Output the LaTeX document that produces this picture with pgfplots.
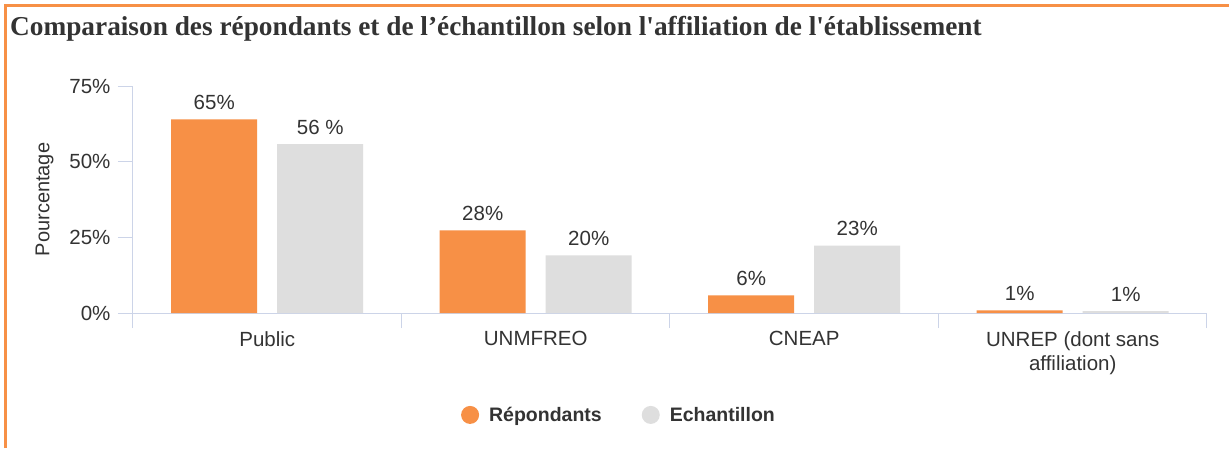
\documentclass[border=0pt]{standalone}
\usepackage{pgfplots}
\pgfplotsset{compat=1.18}
\usepackage{fontspec}
\setmainfont{Liberation Sans}
\newfontfamily\titlefont{Liberation Serif}
\definecolor{orangeC}{HTML}{F79046}
\definecolor{greyC}{HTML}{DEDEDE}
\definecolor{axisC}{HTML}{CCD4E8}
\definecolor{textC}{HTML}{333333}
\definecolor{borderC}{HTML}{F79046}
\begin{document}
\begin{tikzpicture}[x=1pt,y=1pt]
\path[use as bounding box] (0,0) rectangle (1229,448);
\fill[white] (0,0) rectangle (1229,448);
\draw[borderC, line width=3pt] (5.5,0) -- (5.5,442.5) -- (1229,442.5);
\node[anchor=west, inner sep=0pt, text=textC, font=\titlefont\bfseries\fontsize{27.3}{31}\selectfont] at (10,419.5) {Comparaison des répondants et de l’échantillon selon l\textquotesingle affiliation de l\textquotesingle établissement};
\begin{axis}[
  at={(133pt,135pt)}, anchor=south west,
  scale only axis, width=1074pt, height=227pt,
  ybar, bar width=86pt,
  xmin=-0.5, xmax=3.5, ymin=0, ymax=75,
  axis x line=bottom, axis y line=left,
  axis line style={draw=axisC, line width=1pt, -},
  xtick={0,1,2,3},
  xticklabels={Public,UNMFREO,CNEAP,{UNREP (dont sans\\affiliation)}},
  major x tick style={draw=none},
  minor xtick={-0.5,0.5,1.5,2.5,3.5},
  minor x tick style={draw=axisC, line width=1pt},
  ytick={0,25,50,75},
  yticklabels={0\%,25\%,50\%,75\%},
  y tick style={draw=axisC, line width=1pt},
  tick align=outside, major tick length=15pt, minor tick length=15pt,
  tick label style={font=\fontsize{20.5}{24}\selectfont, text=textC},
  xticklabel style={align=center, anchor=north},
  yticklabel style={xshift=-4pt},
  ylabel={Pourcentage},
  ylabel style={at={(axis description cs:-0.0824,0.5)}, anchor=center, rotate=0, font=\fontsize{20}{24}\selectfont, text=textC},
  nodes near coords,
  point meta=explicit symbolic,
  every node near coord/.append style={font=\fontsize{20.5}{24}\selectfont, text=textC, anchor=south, yshift=6pt},
  legend columns=2,
  legend style={at={(0.4525,-0.449)}, anchor=center, draw=none, fill=none, font=\bfseries\fontsize{19.5}{23}\selectfont, text=textC,
    /tikz/every even column/.style={column sep=38pt}},
  clip=false,
]
\addplot[fill=orangeC, draw=none, bar shift=-53pt,
  legend image code/.code={\fill[orangeC] (0pt,0) circle (9pt); \path (17pt,0);}]
  coordinates {(0,64.0) [65\%] (1,27.3) [28\%] (2,5.8) [6\%] (3,0.9) [1\%]};
\addlegendentry{Répondants}
\addplot[fill=greyC, draw=none, bar shift=53pt,
  legend image code/.code={\fill[greyC] (0pt,0) circle (9pt); \path (17pt,0);}]
  coordinates {(0,55.8) [56 \%] (1,19.0) [20\%] (2,22.3) [23\%] (3,0.6) [1\%]};
\addlegendentry{Echantillon}
\end{axis}
\end{tikzpicture}
\end{document}
